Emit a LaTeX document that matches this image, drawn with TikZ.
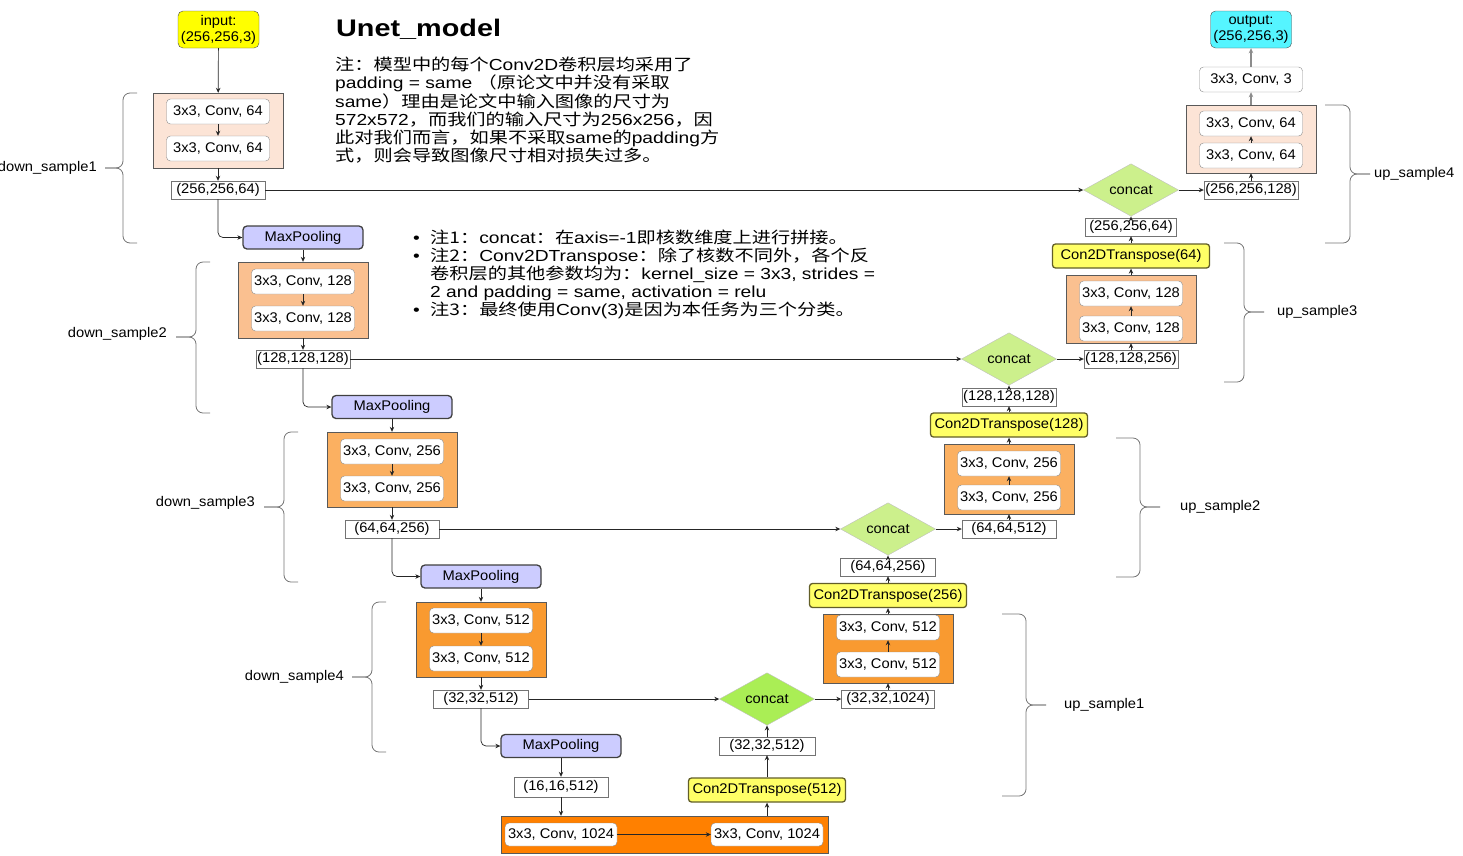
\documentclass[tikz,border=0pt]{standalone}
\usepackage{fontspec}
\setmainfont{Liberation Sans}[FakeStretch=1.05]
\newfontfamily\notelatin[FakeStretch=1.2]{Liberation Sans}
\newfontfamily\notecjk[FakeStretch=1.2]{Noto Sans CJK SC}
\newcommand{\zh}[1]{{\notecjk #1}}
\usepackage{xcolor}
\definecolor{inyellow}{RGB}{255,255,0}
\definecolor{outcyan}{RGB}{85,245,255}
\definecolor{poolblue}{RGB}{204,204,255}
\definecolor{transyellow}{RGB}{255,255,102}
\definecolor{stageA}{RGB}{252,228,214}
\definecolor{stageB}{RGB}{250,192,144}
\definecolor{stageC}{RGB}{251,176,97}
\definecolor{stageD}{RGB}{249,154,48}
\definecolor{stageE}{RGB}{255,128,0}
\definecolor{mergelight}{RGB}{204,240,140}
\definecolor{mergedark}{RGB}{170,238,85}
\usetikzlibrary{shapes,arrows.meta,positioning}

\begin{document}
\begin{tikzpicture}[
    x=1pt, y=-1pt,
    txt/.style={font=\fontsize{14}{16}\selectfont, inner sep=0pt},
    stage/.style={rectangle, draw=black!65, inner sep=0pt, minimum width=130pt},
    conv/.style={txt, rectangle, rounded corners=4pt, draw=black!45, fill=white, minimum width=103pt, minimum height=25pt},
    tensor/.style={txt, rectangle, draw=black!55, fill=white, minimum height=18pt},
    pool/.style={txt, rectangle, rounded corners=4pt, draw=black!75, line width=1.3pt, fill=poolblue, minimum width=120pt, minimum height=23pt},
    upconv/.style={txt, rectangle, rounded corners=3pt, draw=olive!60!black, line width=1.3pt, fill=transyellow, minimum width=157pt, minimum height=24pt},
    merge/.style={txt, diamond, draw=black!25, fill=mergelight, minimum width=95pt, minimum height=40pt},
    io/.style={txt, rectangle, rounded corners=5pt, draw=black!70, minimum width=81pt, minimum height=37pt, align=center},
    side/.style={txt},
    arrow/.style={->, >={Stealth[length=5pt,width=4.5pt]}, line width=0.7pt, draw=black!85},
    brc/.style={draw=black!55, line width=0.8pt, rounded corners=7pt}
]
\useasboundingbox (0,0) rectangle (1463,855);

% notes
\node[anchor=west, inner sep=0pt, font=\notelatin\bfseries\fontsize{24}{28}\selectfont] (title) at (336,29) {Unet\_model};
\node[anchor=north west, align=left, inner sep=0pt, font=\notelatin\fontsize{16}{18.2}\selectfont] (note1) at (335,57) {%
\zh{注：模型中的每个}Conv2D\zh{卷积层均采用了}\\
padding = same \zh{（原论文中并没有采取}\\
same\zh{）理由是论文中输入图像的尺寸为}\\
572x572\zh{，而我们的输入尺寸为}256x256\zh{，因}\\
\zh{此对我们而言，如果不采取}same\zh{的}padding\zh{方}\\
\zh{式，则会导致图像尺寸相对损失过多。}};
\node[anchor=north west, align=left, inner sep=0pt, font=\notelatin\fontsize{16}{18}\selectfont] (note2) at (413,230) {%
\makebox[17pt][l]{•}\zh{注1：}concat\zh{：在}axis=-1\zh{即核数维度上进行拼接。}\\
\makebox[17pt][l]{•}\zh{注2：}Conv2DTranspose\zh{：除了核数不同外，各个反}\\
\hspace*{17pt}\zh{卷积层的其他参数均为：}kernel\_size = 3x3, strides =\\
\hspace*{17pt}2 and padding = same, activation = relu\\
\makebox[17pt][l]{•}\zh{注3：最终使用}Conv(3)\zh{是因为本任务为三个分类。}};

% down path
\node[io, fill=inyellow] (in) at (218.5,29.5) {input:\\(256,256,3)};
\node[stage, fill=stageA, minimum height=75pt] (ds1) at (218,130.5) {};
\node[conv, below=6pt of ds1.north] (ds1a) {3x3, Conv, 64};
\node[conv, above=7pt of ds1.south] (ds1b) {3x3, Conv, 64};
\node[tensor, minimum width=94pt] (s1) at (218,190) {(256,256,64)};
\node[pool] (mp1) at (303,237.5) {MaxPooling};

\node[stage, fill=stageB, minimum height=76pt] (ds2) at (303,300) {};
\node[conv, below=7pt of ds2.north] (ds2a) {3x3, Conv, 128};
\node[conv, above=7pt of ds2.south] (ds2b) {3x3, Conv, 128};
\node[tensor, minimum width=94pt] (s2) at (303,359) {(128,128,128)};
\node[pool] (mp2) at (392,407) {MaxPooling};

\node[stage, fill=stageC, minimum height=75pt] (ds3) at (392,469.5) {};
\node[conv, below=7pt of ds3.north] (ds3a) {3x3, Conv, 256};
\node[conv, above=6pt of ds3.south] (ds3b) {3x3, Conv, 256};
\node[tensor, minimum width=94pt] (s3) at (392,529) {(64,64,256)};
\node[pool] (mp3) at (481,576.5) {MaxPooling};

\node[stage, fill=stageD, minimum height=75pt] (ds4) at (481,639.5) {};
\node[conv, below=6pt of ds4.north] (ds4a) {3x3, Conv, 512};
\node[conv, above=6pt of ds4.south] (ds4b) {3x3, Conv, 512};
\node[tensor, minimum width=95pt] (s4) at (481,699) {(32,32,512)};
\node[pool] (mp4) at (561,746) {MaxPooling};
\node[tensor, minimum width=94pt, minimum height=20pt] (s5) at (561,787) {(16,16,512)};

% bottom
\node[stage, fill=stageE, minimum width=327pt, minimum height=37pt] (bott) at (664.5,834.5) {};
\node[conv, minimum width=112pt, minimum height=23pt, right=4pt of bott.west] (b1) {3x3, Conv, 1024};
\node[conv, minimum width=112pt, minimum height=23pt, left=5pt of bott.east] (b2) {3x3, Conv, 1024};

% up path
\node[upconv] (t4) at (767,790) {Con2DTranspose(512)};
\node[tensor, minimum width=96pt] (u4s) at (767,746) {(32,32,512)};
\node[merge, fill=mergedark] (cc4) at (767,699) {concat};
\node[tensor, minimum width=93pt] (u4o) at (888,699) {(32,32,1024)};
\node[stage, fill=stageD, minimum height=69pt] (us1) at (888,648.5) {};
\node[conv, below=1pt of us1.north] (us1a) {3x3, Conv, 512};
\node[conv, above=6pt of us1.south] (us1b) {3x3, Conv, 512};

\node[upconv] (t3) at (888,595.5) {Con2DTranspose(256)};
\node[tensor, minimum width=95pt] (u3s) at (888,567) {(64,64,256)};
\node[merge] (cc3) at (888,529) {concat};
\node[tensor, minimum width=94pt] (u3o) at (1009,529) {(64,64,512)};
\node[stage, fill=stageC, minimum height=70pt] (us2) at (1009,479) {};
\node[conv, below=7pt of us2.north] (us2a) {3x3, Conv, 256};
\node[conv, above=4pt of us2.south] (us2b) {3x3, Conv, 256};

\node[upconv] (t2) at (1009,425) {Con2DTranspose(128)};
\node[tensor, minimum width=94pt] (u2s) at (1009,397) {(128,128,128)};
\node[merge] (cc2) at (1009,359) {concat};
\node[tensor, minimum width=94pt] (u2o) at (1131,359) {(128,128,256)};
\node[stage, fill=stageB, minimum height=68pt] (us3) at (1131,309) {};
\node[conv, below=6pt of us3.north] (us3a) {3x3, Conv, 128};
\node[conv, above=2pt of us3.south] (us3b) {3x3, Conv, 128};

\node[upconv] (t1) at (1131,256) {Con2DTranspose(64)};
\node[tensor, minimum width=91pt] (u1s) at (1131,227) {(256,256,64)};
\node[merge] (cc1) at (1131,190) {concat};
\node[tensor, minimum width=94pt] (u1o) at (1251,190) {(256,256,128)};
\node[stage, fill=stageA, minimum height=68pt] (us4) at (1251,139) {};
\node[conv, below=6pt of us4.north] (us4a) {3x3, Conv, 64};
\node[conv, above=5pt of us4.south] (us4b) {3x3, Conv, 64};
\node[conv] (cv3) at (1251,79.5) {3x3, Conv, 3};
\node[io, fill=outcyan] (out) at (1251,29.5) {output:\\(256,256,3)};

% connectors, down
\draw[arrow] (in) -- (ds1);
\draw[arrow] (ds1a) -- (ds1b);
\draw[arrow] (ds1) -- (s1);
\draw[arrow, rounded corners=5pt] (s1.south) |- (mp1.west);
\draw[arrow] (mp1) -- (ds2);
\draw[arrow] (ds2a) -- (ds2b);
\draw[arrow] (ds2) -- (s2);
\draw[arrow, rounded corners=5pt] (s2.south) |- (mp2.west);
\draw[arrow] (mp2) -- (ds3);
\draw[arrow] (ds3a) -- (ds3b);
\draw[arrow] (ds3) -- (s3);
\draw[arrow, rounded corners=5pt] (s3.south) |- (mp3.west);
\draw[arrow] (mp3) -- (ds4);
\draw[arrow] (ds4a) -- (ds4b);
\draw[arrow] (ds4) -- (s4);
\draw[arrow, rounded corners=5pt] (s4.south) |- (mp4.west);
\draw[arrow] (mp4) -- (s5);
\draw[arrow] (s5) -- (s5 |- bott.north);
\draw[arrow] (b1) -- (b2);

% skip lines
\draw[arrow] (s1) -- (cc1);
\draw[arrow] (s2) -- (cc2);
\draw[arrow] (s3) -- (cc3);
\draw[arrow] (s4) -- (cc4);

% connectors, up
\draw[arrow] (bott.north -| t4) -- (t4);
\draw[arrow] (t4) -- (u4s);
\draw[arrow] (u4s) -- (cc4);
\draw[arrow] (cc4) -- (u4o);
\draw[arrow] (u4o) -- (us1);
\draw[arrow] (us1b) -- (us1a);
\draw[arrow] (us1) -- (t3);
\draw[arrow] (t3) -- (u3s);
\draw[arrow] (u3s) -- (cc3);
\draw[arrow] (cc3) -- (u3o);
\draw[arrow] (u3o) -- (us2);
\draw[arrow] (us2b) -- (us2a);
\draw[arrow] (us2) -- (t2);
\draw[arrow] (t2) -- (u2s);
\draw[arrow] (u2s) -- (cc2);
\draw[arrow] (cc2) -- (u2o);
\draw[arrow] (u2o) -- (us3);
\draw[arrow] (us3b) -- (us3a);
\draw[arrow] (us3) -- (t1);
\draw[arrow] (t1) -- (u1s);
\draw[arrow] (u1s) -- (cc1);
\draw[arrow] (cc1) -- (u1o);
\draw[arrow] (u1o) -- (us4);
\draw[arrow] (us4b) -- (us4a);
\draw[arrow, draw=black!45, line width=1.5pt] (us4) -- (cv3);
\draw[arrow, draw=black!45, line width=1.5pt] (cv3) -- (out);

% braces
\draw[brc] (137,93) -- (123,93) -- (123,168) -- (105,168);
\draw[brc] (105,168) -- (123,168) -- (123,243) -- (137,243);
\node[side, anchor=east] (dl1) at (97,168) {down\_sample1};
\draw[brc] (210,262) -- (196,262) -- (196,337) -- (176,337);
\draw[brc] (176,337) -- (196,337) -- (196,413) -- (210,413);
\node[side, anchor=east] (dl2) at (167,334) {down\_sample2};
\draw[brc] (298,432) -- (284,432) -- (284,507) -- (264,507);
\draw[brc] (264,507) -- (284,507) -- (284,582) -- (298,582);
\node[side, anchor=east] (dl3) at (255,503) {down\_sample3};
\draw[brc] (386,602) -- (372,602) -- (372,677) -- (352,677);
\draw[brc] (352,677) -- (372,677) -- (372,752) -- (386,752);
\node[side, anchor=east] (dl4) at (344,677) {down\_sample4};

\draw[brc] (1325,105) -- (1350,105) -- (1350,174) -- (1370,174);
\draw[brc] (1370,174) -- (1350,174) -- (1350,243) -- (1325,243);
\node[side, anchor=west] (ul4) at (1374,174) {up\_sample4};
\draw[brc] (1224,243) -- (1244,243) -- (1244,312) -- (1264,312);
\draw[brc] (1264,312) -- (1244,312) -- (1244,382) -- (1224,382);
\node[side, anchor=west] (ul3) at (1277,312) {up\_sample3};
\draw[brc] (1116,438) -- (1140,438) -- (1140,507) -- (1160,507);
\draw[brc] (1160,507) -- (1140,507) -- (1140,577) -- (1116,577);
\node[side, anchor=west] (ul2) at (1180,507) {up\_sample2};
\draw[brc] (1002,614) -- (1026,614) -- (1026,705) -- (1046,705);
\draw[brc] (1046,705) -- (1026,705) -- (1026,796) -- (1002,796);
\node[side, anchor=west] (ul1) at (1064,705) {up\_sample1};
\end{tikzpicture}
\end{document}
